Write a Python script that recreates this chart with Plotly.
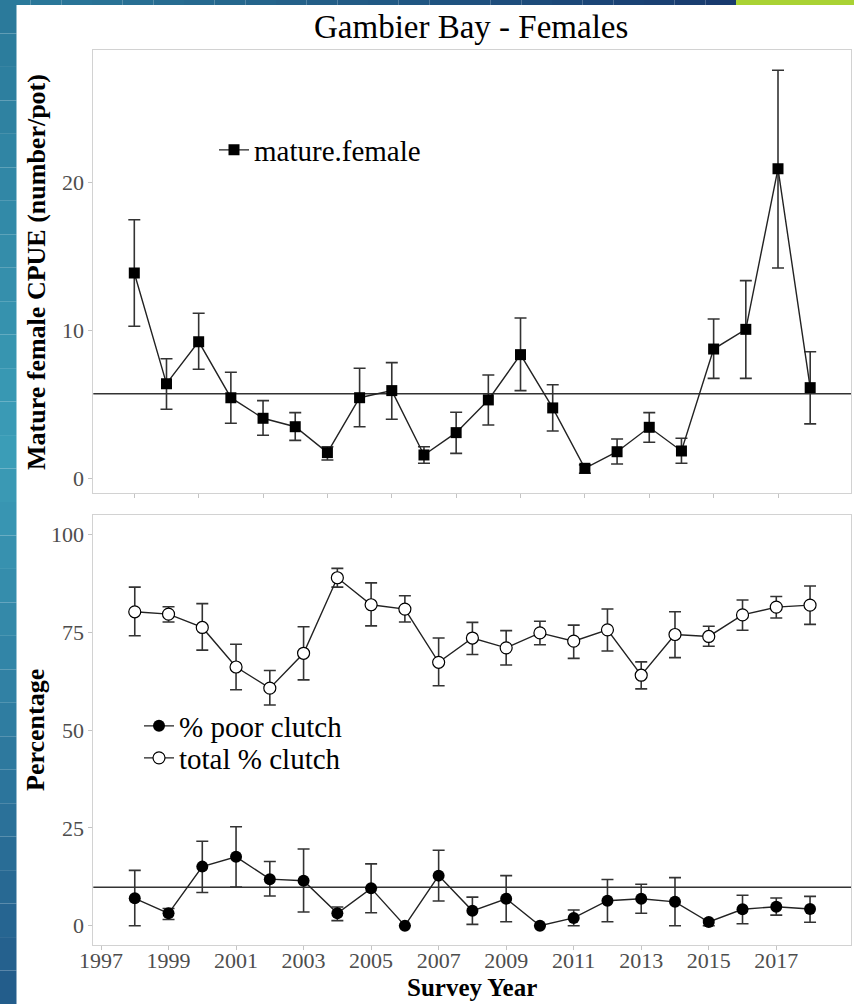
import plotly.graph_objects as go

W, H = 854, 1004

# ---------------- data ----------------
cpue_years = list(range(1997, 2019))
cpue = [13.9, 6.42, 9.26, 5.47, 4.08, 3.51, 1.76, 5.47, 5.95, 1.60, 3.11,
        5.32, 8.38, 4.78, 0.70, 1.82, 3.47, 1.87, 8.76, 10.09, 20.95, 6.15]
cpue_hi = [17.5, 8.10, 11.18, 7.19, 5.27, 4.46, 2.16, 7.46, 7.84, 2.16, 4.49,
           7.00, 10.86, 6.35, 0.93, 2.68, 4.46, 2.73, 10.79, 13.38, 27.6, 8.58]
cpue_lo = [10.3, 4.69, 7.39, 3.74, 2.93, 2.59, 1.26, 3.51, 4.01, 1.04, 1.71,
           3.63, 5.95, 3.22, 0.36, 0.99, 2.46, 1.04, 6.78, 6.78, 14.24, 3.70]
cpue_ref = 5.74

clutch_years = list(range(1998, 2019))
total_clutch = [80.2, 79.6, 76.2, 66.1, 60.7, 69.6, 88.9, 82.0, 80.9, 67.3, 73.5,
                71.0, 74.8, 72.7, 75.6, 64.0, 74.4, 73.9, 79.4, 81.4, 81.9]
total_hi = [86.5, 81.5, 82.3, 71.9, 65.2, 76.4, 91.3, 87.6, 84.3, 73.5, 77.5,
            75.4, 77.8, 76.8, 80.9, 67.4, 80.2, 76.5, 83.2, 84.1, 86.8]
total_lo = [74.1, 77.6, 70.4, 60.3, 56.4, 62.8, 86.5, 76.6, 77.6, 61.3, 69.3,
            66.6, 71.8, 68.3, 70.2, 60.5, 68.5, 71.4, 75.5, 78.6, 77.0]
poor_clutch = [7.0, 3.16, 15.1, 17.6, 11.9, 11.5, 3.16, 9.55, 0.0, 12.8, 3.8,
               6.9, 0.0, 2.0, 6.4, 6.9, 6.1, 0.95, 4.2, 4.86, 4.27]
poor_hi = [14.15, 4.4, 21.6, 25.3, 16.4, 19.6, 4.8, 15.8, 0.0, 19.3, 7.3,
           12.8, 0.0, 4.0, 11.8, 10.6, 12.3, 1.46, 7.8, 7.1, 7.5]
poor_lo = [0.0, 1.6, 8.5, 9.9, 7.6, 3.5, 1.3, 3.3, 0.0, 6.3, 0.35,
           1.0, 0.0, 0.0, 1.0, 3.2, 0.0, 0.0, 0.5, 2.7, 0.87]
poor_ref = 9.8

odd_ticks = list(range(1997, 2018, 2))
odd_labels = [str(v) for v in odd_ticks]
cpue_ticks = [0, 10, 20]
pct_ticks = [0, 25, 50, 75, 100]

# ---------------- helpers ----------------
def px_x(p):
    return p / W


def px_y(p):
    return 1 - p / H


SERIF = "Liberation Serif"
LINE_C = "#222222"
ERR_C = "#333333"


def err(vals, hi, lo):
    return dict(type="data", symmetric=False,
                array=[h - v for v, h in zip(vals, hi)],
                arrayminus=[v - l for v, l in zip(vals, lo)],
                color=ERR_C, thickness=1.6, width=6)


fig = go.Figure()

fig.add_trace(go.Scatter(
    x=cpue_years, y=cpue, mode="lines+markers", name="mature.female",
    xaxis="x", yaxis="y", legend="legend", showlegend=True,
    line=dict(color=LINE_C, width=1.4),
    marker=dict(symbol="square", size=11, color="black"),
    error_y=err(cpue, cpue_hi, cpue_lo)))

fig.add_trace(go.Scatter(
    x=clutch_years, y=poor_clutch, mode="lines+markers", name="% poor clutch",
    xaxis="x2", yaxis="y2", legend="legend2", showlegend=True,
    line=dict(color=LINE_C, width=1.4),
    marker=dict(symbol="circle", size=12, color="black"),
    error_y=err(poor_clutch, poor_hi, poor_lo)))

fig.add_trace(go.Scatter(
    x=clutch_years, y=total_clutch, mode="lines+markers", name="total % clutch",
    xaxis="x2", yaxis="y2", legend="legend3", showlegend=True,
    line=dict(color=LINE_C, width=1.4),
    marker=dict(symbol="circle", size=12, color="white",
                line=dict(color="black", width=1.2)),
    error_y=err(total_clutch, total_hi, total_lo)))

axis_common = dict(showline=True, mirror=True, linecolor="#d2d2d2", linewidth=1,
                   showgrid=False, zeroline=False, ticks="outside", ticklen=4,
                   tickcolor="#c4c4c4", tickwidth=1, automargin=False)
y_tickfont = dict(family=SERIF, size=22, color="#4d4d4d")
x_tickfont = dict(family=SERIF, size=22, color="#4d4d4d")

x_dom = [px_x(93.3), px_x(851)]

shapes = [
    dict(type="line", xref="x domain", yref="y", x0=0, x1=1, y0=cpue_ref, y1=cpue_ref,
         line=dict(color="#333333", width=1.5), layer="below"),
    dict(type="line", xref="x2 domain", yref="y2", x0=0, x1=1, y0=poor_ref, y1=poor_ref,
         line=dict(color="#333333", width=1.5), layer="below"),
]


# decorative slide frame (gradient approximated by strips)
def lerp(c1, c2, t):
    return "rgb(%d,%d,%d)" % tuple(round(a + (b - a) * t) for a, b in zip(c1, c2))


top_c, mid_c, bot_c = (43, 122, 155), (59, 157, 183), (35, 93, 139)
n = 30
for i in range(n):
    t = i / (n - 1)
    c = lerp(top_c, mid_c, t / 0.45) if t < 0.45 else lerp(mid_c, bot_c, (t - 0.45) / 0.55)
    shapes.append(dict(type="rect", xref="paper", yref="paper",
                       x0=0, x1=px_x(16.5), y0=px_y(H * (i + 1) / n), y1=px_y(H * i / n),
                       fillcolor=c, line=dict(width=0), layer="above"))
m = 24
for i in range(m):
    t = i / (m - 1)
    c = lerp((43, 122, 155), (24, 58, 110), t)
    shapes.append(dict(type="rect", xref="paper", yref="paper",
                       x0=px_x(736 * i / m), x1=px_x(736 * (i + 1) / m),
                       y0=px_y(5), y1=1, fillcolor=c, line=dict(width=0), layer="above"))
shapes.append(dict(type="rect", xref="paper", yref="paper", x0=px_x(736), x1=1,
                   y0=px_y(5), y1=1, fillcolor="#a9d234", line=dict(width=0), layer="above"))

annotations = [
    dict(text="Gambier Bay - Females", xref="paper", yref="paper",
         x=px_x(471), y=px_y(27), showarrow=False, xanchor="center", yanchor="middle",
         font=dict(family=SERIF, size=33, color="black")),
    dict(text="<b>Mature female CPUE (number/pot)</b>", xref="paper", yref="paper",
         x=px_x(36), y=px_y(272), showarrow=False, textangle=-90,
         xanchor="center", yanchor="middle",
         font=dict(family=SERIF, size=26, color="black")),
    dict(text="<b>Percentage</b>", xref="paper", yref="paper",
         x=px_x(35), y=px_y(730), showarrow=False, textangle=-90,
         xanchor="center", yanchor="middle",
         font=dict(family=SERIF, size=26, color="black")),
    dict(text="<b>Survey Year</b>", xref="paper", yref="paper",
         x=px_x(472), y=px_y(987), showarrow=False,
         xanchor="center", yanchor="middle",
         font=dict(family=SERIF, size=25, color="black")),
]

leg_common = dict(xanchor="left", yanchor="middle", bgcolor="rgba(0,0,0,0)",
                  itemwidth=30, visible=True)

fig.update_layout(
    width=W, height=H, margin=dict(l=0, r=0, t=0, b=0, pad=0, autoexpand=False),
    paper_bgcolor="white", plot_bgcolor="white", showlegend=True,
    font=dict(family=SERIF),
    xaxis=dict(domain=x_dom, anchor="y", range=[1995.726, 2019.268],
               tickvals=odd_ticks, showticklabels=False, tickfont=x_tickfont,
               **axis_common),
    yaxis=dict(domain=[px_y(493), px_y(50)], anchor="x", range=[-0.97, 28.97],
               tickvals=cpue_ticks, tickfont=y_tickfont, **axis_common),
    xaxis2=dict(domain=x_dom, anchor="y2", range=[1996.772, 2019.213],
                tickvals=odd_ticks, ticktext=odd_labels, tickfont=x_tickfont,
                ticklabelstandoff=-9, **axis_common),
    yaxis2=dict(domain=[px_y(945.3), px_y(515)], anchor="x2", range=[-5.0, 104.93],
                tickvals=pct_ticks, tickfont=y_tickfont, **axis_common),
    legend=dict(x=px_x(214), y=px_y(150), font=dict(family=SERIF, size=29, color="black"),
                **leg_common),
    legend2=dict(x=px_x(139), y=px_y(726), font=dict(family=SERIF, size=29, color="black"),
                 **leg_common),
    legend3=dict(x=px_x(139), y=px_y(758), font=dict(family=SERIF, size=29, color="black"),
                 **leg_common),
    shapes=shapes, annotations=annotations,
)

fig.write_html(
    "out.html",
    config={"displayModeBar": False, "responsive": False},
    post_script="document.documentElement.style.margin='0';"
                "document.body.style.margin='0';"
                "document.body.style.overflow='hidden';",
)
